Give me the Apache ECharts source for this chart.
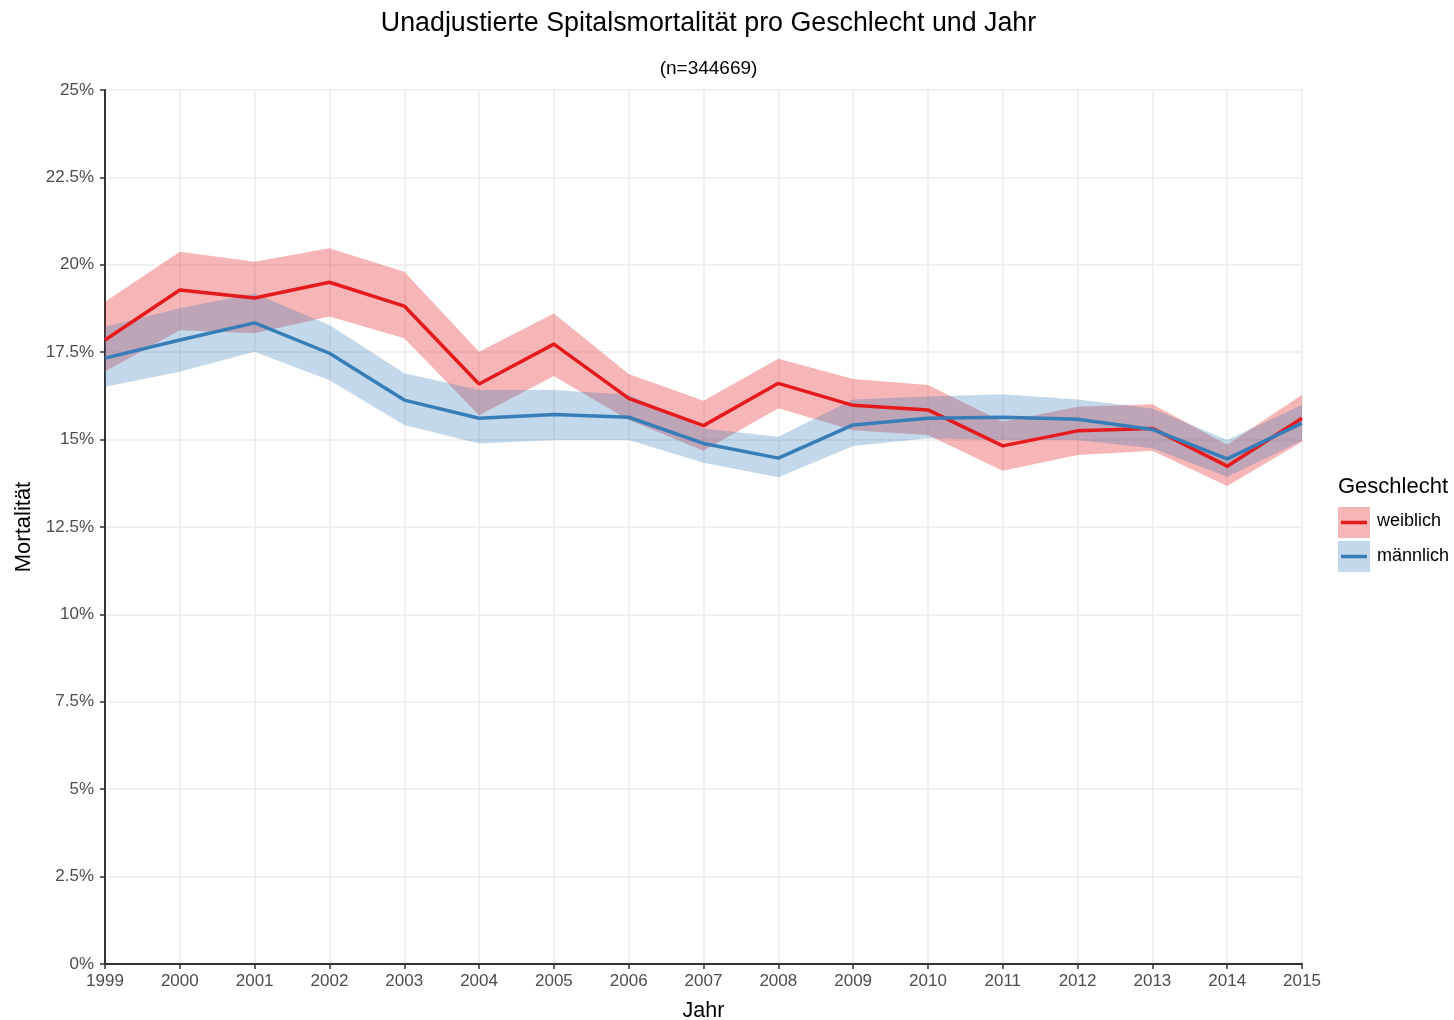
<!DOCTYPE html>
<html><head><meta charset="utf-8">
<script src="https://cdn.jsdelivr.net/npm/echarts@6/dist/echarts.min.js"></script>
<style>html,body{margin:0;padding:0;background:#fff}#c{width:1454px;height:1020px}</style>
</head><body><div id="c"></div>
<script>
const years = ['1999','2000','2001','2002','2003','2004','2005','2006','2007','2008','2009','2010','2011','2012','2013','2014','2015'];
const yTicks = [0,2.5,5,7.5,10,12.5,15,17.5,20,22.5,25];
const weiblich      = [17.85,19.28,19.05,19.50,18.82,16.59,17.73,16.18,15.40,16.61,15.98,15.85,14.82,15.25,15.32,14.24,15.61];
const weiblichUpper = [18.94,20.37,20.09,20.47,19.80,17.51,18.61,16.88,16.11,17.31,16.73,16.56,15.51,15.94,16.01,14.85,16.28];
const weiblichLower = [16.95,18.13,18.04,18.52,17.90,15.70,16.82,15.56,14.68,15.90,15.27,15.13,14.11,14.56,14.68,13.67,14.94];
const maennlich      = [17.33,17.85,18.34,17.47,16.13,15.61,15.72,15.64,14.89,14.47,15.42,15.61,15.64,15.58,15.29,14.45,15.47];
const maennlichUpper = [18.23,18.76,19.18,18.28,16.90,16.42,16.42,16.28,15.32,15.08,16.15,16.23,16.30,16.15,15.89,14.99,15.99];
const maennlichLower = [16.51,16.94,17.51,16.70,15.42,14.89,14.99,14.99,14.34,13.92,14.82,15.04,14.99,14.99,14.75,13.94,14.97];

const RED = '#E41A1C', BLUE = '#377EB8';
const RED_FILL = 'rgba(228,26,28,0.32)', BLUE_FILL = 'rgba(55,126,184,0.30)';
const diff = (u,l) => u.map((v,i) => +(v - l[i]).toFixed(3));
const font = 'Liberation Sans, Arial, sans-serif';

function band(name, lower, upper, fill, z){
  return [
    {type:'line', stack:name, data:lower, symbol:'none', lineStyle:{opacity:0}, silent:true, z:z},
    {type:'line', stack:name, data:diff(upper,lower), symbol:'none', lineStyle:{opacity:0}, areaStyle:{color:fill, opacity:1}, silent:true, z:z}
  ];
}

const chart = echarts.init(document.getElementById('c'), null, {renderer:'canvas'});
chart.setOption({
  animation:false,
  backgroundColor:'#fff',
  title:[
    {text:'Unadjustierte Spitalsmortalität pro Geschlecht und Jahr', left:703.5, textAlign:'center', top:5,
     textStyle:{fontFamily:font, fontSize:26.8, fontWeight:'normal', color:'#000'}},
    {text:'(n=344669)', left:703.5, textAlign:'center', top:54, textStyle:{fontFamily:font, fontSize:19, fontWeight:'normal', color:'#000'}}
  ],
  grid:{left:105, right:152, top:90, bottom:56, containLabel:false, outerBoundsMode:'none'},
  xAxis:{type:'category', data:years, boundaryGap:false, name:'Jahr', nameLocation:'middle', nameGap:36,
    nameTextStyle:{fontFamily:font, fontSize:21.5, color:'#000'},
    axisLine:{lineStyle:{color:'#333', width:2}},
    axisTick:{length:5, lineStyle:{color:'#333', width:1.5}},
    axisLabel:{fontFamily:font, fontSize:17, color:'#4d4d4d', margin:9},
    splitLine:{show:true, lineStyle:{color:'#ebebeb', width:1.5}}},
  yAxis:{type:'value', min:0, max:25, interval:2.5, name:'Mortalität', nameLocation:'middle', nameGap:67,
    nameTextStyle:{fontFamily:font, fontSize:22, color:'#000'},
    axisLine:{show:true, lineStyle:{color:'#333', width:2}},
    axisTick:{show:true, length:5, lineStyle:{color:'#333', width:1.5}},
    axisLabel:{fontFamily:font, fontSize:17, color:'#4d4d4d', margin:11, formatter:v => yTicks.includes(v) ? v + '%' : ''},
    splitLine:{show:true, lineStyle:{color:'#ebebeb', width:1.5}}},
  series:[
    ...band('w', weiblichLower, weiblichUpper, RED_FILL, 1),
    ...band('m', maennlichLower, maennlichUpper, BLUE_FILL, 2),
    {name:'weiblich', type:'line', data:weiblich, symbol:'none', lineStyle:{color:RED, width:3.5}, z:3},
    {name:'männlich', type:'line', data:maennlich, symbol:'none', lineStyle:{color:BLUE, width:3.5}, z:4}
  ],
  graphic:[
    {type:'text', left:1338, top:476, style:{text:'Geschlecht', font:'22px '+font, fill:'#000'}},
    {type:'rect', shape:{x:1338, y:507, width:32, height:31}, style:{fill:RED_FILL}},
    {type:'line', shape:{x1:1341, y1:522.5, x2:1367, y2:522.5}, style:{stroke:RED, lineWidth:3.5}},
    {type:'text', left:1377, top:512, style:{text:'weiblich', font:'18px '+font, fill:'#000'}},
    {type:'rect', shape:{x:1338, y:541, width:32, height:31}, style:{fill:BLUE_FILL}},
    {type:'line', shape:{x1:1341, y1:556.5, x2:1367, y2:556.5}, style:{stroke:BLUE, lineWidth:3.5}},
    {type:'text', left:1377, top:547, style:{text:'männlich', font:'18px '+font, fill:'#000'}}
  ]
});
</script></body></html>
